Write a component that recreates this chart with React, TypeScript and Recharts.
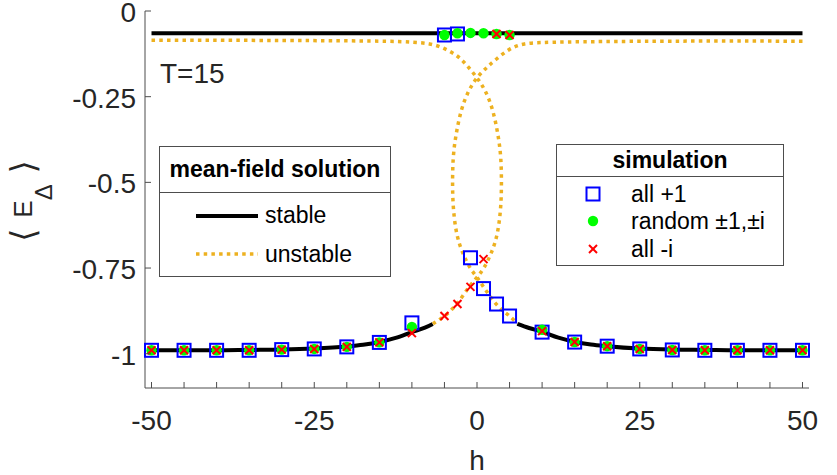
import React from "react";
import {
  ComposedChart,
  Line,
  Scatter,
  XAxis,
  YAxis,
} from "recharts";

// mean-field, stable branches
const upperStableH = [-50, -25, 0, 25, 50];
const upperStableE = [-0.065, -0.065, -0.065, -0.065, -0.065];

const lowerLeftH = [-50, -45, -40, -35, -30, -25, -20, -17.5, -15, -12.5, -10, -8, -6.8];
const lowerLeftE = [-0.99, -0.99, -0.99, -0.989, -0.988, -0.985, -0.979, -0.974, -0.966, -0.954, -0.937, -0.924, -0.913];

const lowerRightH = [6.2, 8, 10, 12.5, 15, 17.5, 20, 25, 30, 35, 40, 45, 50];
const lowerRightE = [-0.913, -0.925, -0.936, -0.953, -0.965, -0.973, -0.978, -0.985, -0.988, -0.989, -0.99, -0.99, -0.99];

// mean-field, unstable branches (ordered along the curve)
const unstableAH = [-50, -30, -15, -10, -7.3, -5, -3, -1.5, 0, 1.3, 2.4, 3.2, 3.65, 3.75, 3.6, 3.1, 2.2, 1.1, 0, -1, -2, -3, -4, -5, -6, -6.8];
const unstableAE = [-0.085, -0.086, -0.088, -0.091, -0.096, -0.11, -0.132, -0.16, -0.195, -0.235, -0.29, -0.36, -0.43, -0.51, -0.58, -0.65, -0.705, -0.748, -0.777, -0.8, -0.826, -0.852, -0.873, -0.89, -0.903, -0.913];

const unstableBH = [50, 30, 15, 10, 7.3, 5, 3, 1.5, 0, -1.3, -2.4, -3.2, -3.65, -3.75, -3.6, -3.1, -2.2, -1.1, 0, 1, 2, 3, 4, 5, 6.2];
const unstableBE = [-0.088, -0.088, -0.09, -0.092, -0.096, -0.112, -0.14, -0.165, -0.195, -0.235, -0.29, -0.36, -0.43, -0.51, -0.58, -0.65, -0.705, -0.748, -0.777, -0.805, -0.832, -0.856, -0.875, -0.89, -0.913];

// simulations
const simH = [-50, -45, -40, -35, -30, -25, -20, -15, -10, -5, -3, -1, 1, 3, 5, 10, 15, 20, 25, 30, 35, 40, 45, 50];
const allPlusOne = [-0.99, -0.99, -0.99, -0.99, -0.988, -0.986, -0.98, -0.967, -0.91, -0.07, -0.067, -0.72, -0.81, -0.855, -0.89, -0.937, -0.966, -0.978, -0.986, -0.989, -0.99, -0.99, -0.99, -0.99];
const randomPM = [-0.99, -0.99, -0.99, -0.99, -0.988, -0.986, -0.98, -0.967, -0.922, -0.07, -0.065, -0.064, -0.065, -0.067, -0.07, -0.93, -0.966, -0.978, -0.986, -0.989, -0.99, -0.99, -0.99, -0.99];
const allMinusI = [-0.99, -0.99, -0.99, -0.99, -0.988, -0.986, -0.98, -0.967, -0.94, -0.89, -0.855, -0.805, -0.724, -0.067, -0.07, -0.934, -0.966, -0.978, -0.986, -0.989, -0.99, -0.99, -0.99, -0.99];

const xTicks = [-50, -45, -40, -35, -30, -25, -20, -15, -10, -5, 0, 5, 10, 15, 20, 25, 30, 35, 40, 45, 50];
const yTicks = [-1, -0.75, -0.5, -0.25, 0];

const zip = (hs: number[], es: number[]) => hs.map((h, i) => ({ h, v: es[i] }));

const AX = "#4d4d4d";
const TXT = "#262626";
const FONT = "'Liberation Sans', Arial, Helvetica, sans-serif";
const ORANGE = "#EDB120";

function BottomTick({ x, y, payload }: any) {
  const v = payload.value;
  return (
    <g>
      <line x1={x} x2={x} y1={y} y2={y - 6} stroke={AX} />
      {v % 25 === 0 && (
        <text x={x} y={y + 42} textAnchor="middle" fontSize={28} fill={TXT} fontFamily={FONT}>
          {v}
        </text>
      )}
    </g>
  );
}

function TopTick({ x, y }: any) {
  return <line x1={x} x2={x} y1={y} y2={y + 6} stroke={AX} />;
}

function LeftTick({ x, y, payload }: any) {
  return (
    <g>
      <line x1={x} x2={x + 6} y1={y} y2={y} stroke={AX} />
      <text x={x - 9} y={y + 11} textAnchor="end" fontSize={28} fill={TXT} fontFamily={FONT}>
        {String(payload.value)}
      </text>
    </g>
  );
}

function RightTick({ x, y }: any) {
  return <line x1={x} x2={x - 6} y1={y} y2={y} stroke={AX} />;
}

const Square = ({ cx, cy }: any) => (
  <rect x={cx - 6.5} y={cy - 6.5} width={13} height={13} fill="none" stroke="#0000ff" strokeWidth={2} />
);
const Dot = ({ cx, cy }: any) => <circle cx={cx} cy={cy} r={5.2} fill="#00ff00" />;
const Cross = ({ cx, cy }: any) => (
  <g stroke="#ff0000" strokeWidth={2}>
    <line x1={cx - 4} y1={cy - 4} x2={cx + 4} y2={cy + 4} />
    <line x1={cx - 4} y1={cy + 4} x2={cx + 4} y2={cy - 4} />
  </g>
);

function Overlay() {
  return (
    <svg width={837} height={475} style={{ position: "absolute", left: 0, top: 0, pointerEvents: "none" }}>
      <text x={160} y={83} fontSize={28} fill={TXT} fontFamily={FONT}>T=15</text>
      <text x={477} y={470} fontSize={28} fill={TXT} fontFamily={FONT} textAnchor="middle">h</text>
      <text transform="translate(32,201) rotate(-90)" textAnchor="middle" fill={TXT} fontFamily={FONT} fontSize={26}>
        <tspan fontFamily="'DejaVu Sans', sans-serif" fontSize={34} dy={3}>⟨ </tspan>
        <tspan dy={-3}>E</tspan>
        <tspan dy={20} fontSize={24}>Δ</tspan>
        <tspan dy={-17} fontFamily="'DejaVu Sans', sans-serif" fontSize={34}> ⟩</tspan>
      </text>

      {/* mean-field legend */}
      <rect x={159.5} y={146.5} width={231} height={130} fill="#fff" stroke={AX} />
      <line x1={159.5} x2={390.5} y1={192.5} y2={192.5} stroke={AX} />
      <text x={275} y={177} textAnchor="middle" fontSize={23} fontWeight="bold" fill="#000" fontFamily={FONT}>mean-field solution</text>
      <line x1={196} x2={258} y1={216} y2={216} stroke="#000" strokeWidth={4} />
      <text x={265} y={223} fontSize={23} fill="#000" fontFamily={FONT}>stable</text>
      <line x1={196} x2={258} y1={254} y2={254} stroke={ORANGE} strokeWidth={3.5} strokeDasharray="3.5 4.2" />
      <text x={265} y={262} fontSize={23} fill="#000" fontFamily={FONT}>unstable</text>

      {/* simulation legend */}
      <rect x={556.5} y={144.5} width={227} height={121} fill="#fff" stroke={AX} />
      <line x1={556.5} x2={783.5} y1={176.5} y2={176.5} stroke={AX} />
      <text x={670} y={168} textAnchor="middle" fontSize={23} fontWeight="bold" fill="#000" fontFamily={FONT}>simulation</text>
      <Square cx={593} cy={194} />
      <text x={631} y={202} fontSize={23} fill="#000" fontFamily={FONT}>all +1</text>
      <Dot cx={593} cy={221} />
      <text x={631} y={229} fontSize={23} fill="#000" fontFamily={FONT}>random ±1,±i</text>
      <Cross cx={593} cy={249} />
      <text x={631} y={257} fontSize={23} fill="#000" fontFamily={FONT}>all -i</text>
    </svg>
  );
}

export default function App() {
  return (
    <div style={{ position: "absolute", left: 0, top: 0, width: 837, height: 475, background: "#fff" }}>
      <ComposedChart width={837} height={475} margin={{ top: 11, right: 28, bottom: 0, left: 0 }}>
        <XAxis
          xAxisId={0}
          dataKey="h"
          type="number"
          domain={[-51, 51]}
          ticks={xTicks}
          interval={0}
          height={87}
          tickSize={0}
          tickMargin={0}
          axisLine={{ stroke: AX }}
          tickLine={false}
          tick={<BottomTick />}
        />
        <XAxis
          xAxisId="top"
          orientation="top"
          type="number"
          domain={[-51, 51]}
          ticks={xTicks}
          interval={0}
          height={0}
          tickSize={0}
          tickMargin={0}
          axisLine={{ stroke: AX }}
          tickLine={false}
          tick={<TopTick />}
        />
        <YAxis
          yAxisId={0}
          dataKey="v"
          type="number"
          domain={[-1.1, 0]}
          ticks={yTicks}
          interval={0}
          width={145}
          tickSize={0}
          tickMargin={0}
          axisLine={{ stroke: AX }}
          tickLine={false}
          tick={<LeftTick />}
        />
        <YAxis
          yAxisId="right"
          orientation="right"
          type="number"
          domain={[-1.1, 0]}
          ticks={yTicks}
          interval={0}
          width={0}
          tickSize={0}
          tickMargin={0}
          axisLine={{ stroke: AX }}
          tickLine={false}
          tick={<RightTick />}
        />

        <Line data={zip(upperStableH, upperStableE)} dataKey="v" type="linear" stroke="#000" strokeWidth={4} dot={false} activeDot={false} isAnimationActive={false} />
        <Line data={zip(lowerLeftH, lowerLeftE)} dataKey="v" type="monotone" stroke="#000" strokeWidth={4} dot={false} activeDot={false} isAnimationActive={false} />
        <Line data={zip(lowerRightH, lowerRightE)} dataKey="v" type="monotone" stroke="#000" strokeWidth={4} dot={false} activeDot={false} isAnimationActive={false} />
        <Line data={zip(unstableAH, unstableAE)} dataKey="v" type="natural" stroke={ORANGE} strokeWidth={3.5} strokeDasharray="3.5 4.2" dot={false} activeDot={false} isAnimationActive={false} />
        <Line data={zip(unstableBH, unstableBE)} dataKey="v" type="natural" stroke={ORANGE} strokeWidth={3.5} strokeDasharray="3.5 4.2" dot={false} activeDot={false} isAnimationActive={false} />

        <Scatter data={zip(simH, allPlusOne)} shape={<Square />} isAnimationActive={false} />
        <Scatter data={zip(simH, randomPM)} shape={<Dot />} isAnimationActive={false} />
        <Scatter data={zip(simH, allMinusI)} shape={<Cross />} isAnimationActive={false} />
      </ComposedChart>
      <Overlay />
    </div>
  );
}
